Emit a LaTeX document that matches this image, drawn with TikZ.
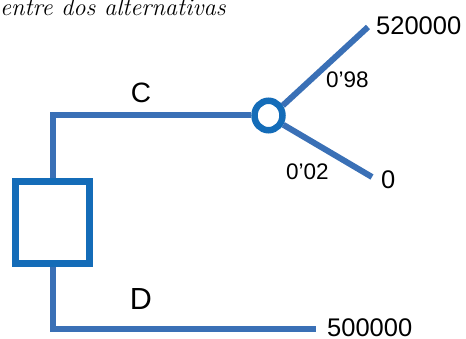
\documentclass[tikz,border=0pt]{standalone}
\usepackage{fontspec}
\setmainfont{Liberation Sans}
\usetikzlibrary{calc,shapes.geometric}
\definecolor{branch}{RGB}{58,112,182}
\definecolor{boxblue}{RGB}{20,108,184}
\begin{document}
\begin{tikzpicture}[x=1pt,y=-1pt,
  branchline/.style={draw=branch,line width=6pt},
  decbox/.style={draw=boxblue,line width=6.5pt,minimum width=74pt,minimum height=82pt,inner sep=0pt},
  chancecirc/.style={draw=boxblue,ellipse,line width=6.5pt,minimum width=28pt,minimum height=29.5pt,inner sep=0pt},
  val/.style={font=\fontsize{25.5}{25.5}\selectfont,anchor=west,inner sep=0pt},
  prob/.style={font=\fontsize{22.5}{22.5}\selectfont,anchor=west,inner sep=0pt},
  opt/.style={inner sep=0pt}]
\useasboundingbox (0,0) rectangle (466,339);
\node[anchor=base west,inner sep=0pt,font=\fontspec{Latin Modern Roman}\itshape\fontsize{24.5}{24.5}\selectfont] (title) at (0,16) {entre dos alternativas};
\node[decbox] (dec) at (52.5,222.5) {};
\node[chancecirc] (ch) at (268.5,115.5) {};
\coordinate (e1) at (368,27);
\coordinate (e2) at (372,177);
\coordinate (e3) at (316,329);
\draw[branchline] (dec.north) |- (ch.west);
\draw[branchline] (dec.south) |- (e3);
\draw[branchline] (ch.35) -- (e1);
\draw[branchline] (ch.-32) -- (e2);
\node[val] (v1) at (376,26) {520000};
\node[val] (v2) at (381,180) {0};
\node[val] (v3) at (327,328) {500000};
\node[prob] (p1) at (326,80) {0’98};
\node[prob] (p2) at (286,172) {0’02};
\node[opt,font=\fontsize{28}{28}\selectfont] (c) at (141,93) {C};
\node[opt,font=\fontsize{30.5}{30.5}\selectfont] (d) at (141,299) {D};
\end{tikzpicture}
\end{document}
